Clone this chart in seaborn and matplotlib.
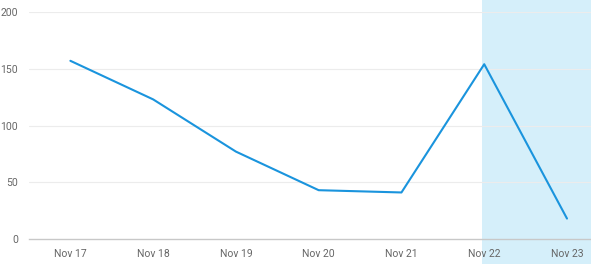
import matplotlib
matplotlib.use("Agg")
import matplotlib.pyplot as plt
import seaborn as sns
import pandas as pd

dates = ["Nov 17", "Nov 18", "Nov 19", "Nov 20", "Nov 21", "Nov 22", "Nov 23"]
values = [157, 123, 77, 43, 41, 154, 18]
yticks = [0, 50, 100, 150, 200]
highlight_start = "Nov 22"

sns.set_theme(style="white")
plt.rcParams['font.family'] = ['Roboto', 'DejaVu Sans']

df = pd.DataFrame({"date": dates, "value": values, "x": range(len(dates))})

fig = plt.figure(figsize=(5.91, 2.66), dpi=100)
ax = fig.add_axes([29/591, 27/266, 1 - 29/591, 227/266])

hs = dates.index(highlight_start)
ax.axvspan(hs - 0.03, len(dates), ymin=-0.11, ymax=1.06, color="#d5effa",
           zorder=0, lw=0, clip_on=False)

sns.lineplot(data=df, x="x", y="value", ax=ax, color="#1a94dd", linewidth=1.5, zorder=3)

ax.set_xlim(-0.5, 6.29)
ax.set_ylim(0, 200)
ax.set_yticks(yticks)
ax.set_xticks(range(len(dates)))
ax.set_xticklabels(dates)
ax.set_xlabel("")
ax.set_ylabel("")
for y in yticks[1:]:
    ax.axhline(y, color="#ececec", lw=0.8, zorder=1)
for s in ["top", "right", "left"]:
    ax.spines[s].set_visible(False)
ax.spines["bottom"].set_color("#c8c8c8")
ax.spines["bottom"].set_linewidth(1)
ax.tick_params(axis="x", colors="#c8c8c8", length=4, width=0.8, labelcolor="#666666", labelsize=7.5, pad=3)
ax.tick_params(axis="y", length=0, labelcolor="#666666", labelsize=7.5, pad=8)
ax.set_facecolor("none")

fig.savefig("out.png", dpi=100)
